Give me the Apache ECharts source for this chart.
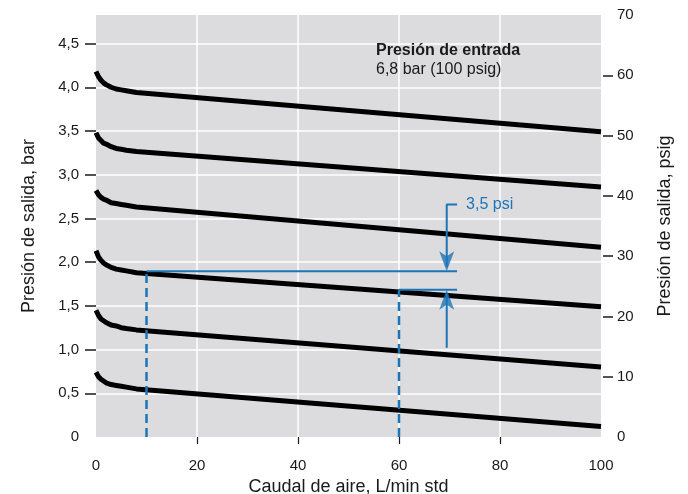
<!DOCTYPE html>
<html>
<head>
<meta charset="utf-8">
<script src="https://cdn.jsdelivr.net/npm/echarts@6/dist/echarts.min.js"></script>
<style>
  html, body { margin: 0; padding: 0; background: #fff; }
  #chart { width: 688px; height: 494px; }
</style>
</head>
<body>
<div id="chart"></div>
<script>
// caudal (L/min std) y presión de salida (bar) para cada ajuste del regulador
const flow = [0, 0.5, 1, 1.5, 2, 3, 4, 5, 6, 8, 100];
const outlet1 = [4.18, 4.12, 4.08, 4.05, 4.03, 4.00, 3.98, 3.97, 3.96, 3.94, 3.49];
const outlet2 = [3.48, 3.42, 3.39, 3.36, 3.35, 3.32, 3.30, 3.29, 3.28, 3.265, 2.86];
const outlet3 = [2.82, 2.77, 2.74, 2.72, 2.71, 2.68, 2.67, 2.66, 2.65, 2.63, 2.17];
const outlet4 = [2.13, 2.06, 2.02, 1.99, 1.97, 1.94, 1.92, 1.91, 1.90, 1.878, 1.49];
const outlet5 = [1.45, 1.39, 1.35, 1.33, 1.31, 1.28, 1.27, 1.25, 1.24, 1.225, 0.80];
const outlet6 = [0.74, 0.69, 0.66, 0.64, 0.62, 0.60, 0.59, 0.58, 0.57, 0.55, 0.12];

// ejes
const xLabels = [0, 20, 40, 60, 80, 100];
const xTicks = [20, 40, 60, 80];
const barLabels = [0, 0.5, 1, 1.5, 2, 2.5, 3, 3.5, 4, 4.5];
const barTicks = [0.5, 1, 1.5, 2, 2.5, 3, 3.5, 4, 4.5];
const psigLabels = [0, 10, 20, 30, 40, 50, 60, 70];
const psigTicks = [10, 20, 30, 40, 50, 60];
const psigMax = 70;
const barMax = psigMax / 14.5038;

// anotación de caída de presión
const refFlow = [10, 60];
const refOutlet = [1.895, 1.685];
const markFlow = 69.45;
const markEnd = 71.5;
const arrowTop = 2.66;
const arrowBottom = 1.02;
const markText = "3,5 psi";

const BLUE = "#1b75b6";
const TXT = "#1a1a1a";
const FONT = "Liberation Sans, Arial, sans-serif";

const curves = [outlet1, outlet2, outlet3, outlet4, outlet5, outlet6];

const curveSeries = curves.map((vals, i) => ({
  name: "c" + i,
  type: "line",
  data: flow.map((f, j) => [f, vals[j]]),
  symbol: "none",
  smooth: false,
  lineStyle: { color: "#000", width: 5, join: "round" },
  silent: true,
  z: 3,
}));

const blueLine = (data, extra) => Object.assign({
  type: "line",
  data: data,
  symbol: "none",
  silent: true,
  lineStyle: { color: BLUE, width: 2 },
  z: 5,
}, extra || {});

const arrowDown = "path://M0,0L7.5,5L15,0L7.5,20Z";

const annotationSeries = [
  // verticales discontinuas
  blueLine([[refFlow[0], 0], [refFlow[0], refOutlet[0]]], { lineStyle: { color: BLUE, width: 2.5, type: [9, 5] } }),
  blueLine([[refFlow[1], 0], [refFlow[1], refOutlet[1]]], { lineStyle: { color: BLUE, width: 2.5, type: [9, 5] } }),
  // horizontales
  blueLine([[refFlow[0], refOutlet[0]], [markEnd, refOutlet[0]]]),
  blueLine([[refFlow[1], refOutlet[1]], [markEnd, refOutlet[1]]]),
  // flecha superior y etiqueta
  blueLine([[markFlow, refOutlet[0] + 0.05], [markFlow, arrowTop], [markEnd, arrowTop]], {
    endLabel: {
      show: true,
      formatter: markText,
      color: BLUE,
      fontSize: 16,
      fontFamily: FONT,
      distance: 9,
    },
  }),
  // flecha inferior
  blueLine([[markFlow, arrowBottom], [markFlow, refOutlet[1] - 0.05]]),
  {
    type: "scatter",
    data: [[markFlow, refOutlet[0]]],
    symbol: arrowDown,
    symbolSize: [15, 20],
    symbolOffset: [0, -10],
    itemStyle: { color: BLUE },
    silent: true,
    z: 6,
  },
  {
    type: "scatter",
    data: [[markFlow, refOutlet[1]]],
    symbol: arrowDown,
    symbolSize: [15, 20],
    symbolRotate: 180,
    symbolOffset: [0, 10],
    itemStyle: { color: BLUE },
    silent: true,
    z: 6,
  },
];

const fmtComma = (v) => (v === 0 ? "0" : v.toFixed(1).replace(".", ","));

const chart = echarts.init(document.getElementById("chart"), null, { renderer: "canvas" });

chart.setOption({
  animation: false,
  textStyle: { fontFamily: FONT, color: TXT },
  title: {
    text: "Presión de entrada",
    subtext: "6,8 bar (100 psig)",
    left: 376,
    top: 43,
    padding: 0,
    itemGap: 3,
    textStyle: { fontSize: 16, fontWeight: "bold", color: TXT, fontFamily: FONT },
    subtextStyle: { fontSize: 16, color: TXT, fontFamily: FONT },
  },
  grid: {
    left: 96,
    right: 87,
    top: 15,
    bottom: 57,
    outerBoundsMode: "none",
    show: true,
    backgroundColor: "#dcdcde",
    borderWidth: 0,
  },
  xAxis: {
    type: "value",
    min: 0,
    max: 100,
    interval: 20,
    offset: 3,
    name: "Caudal de aire, L/min std",
    nameLocation: "middle",
    nameGap: 38,
    nameTextStyle: { fontSize: 18, color: TXT, fontFamily: FONT },
    axisLine: { show: false },
    axisTick: { show: true, length: 7, customValues: xTicks, lineStyle: { color: TXT, width: 1.2 } },
    axisLabel: { customValues: xLabels, margin: 18, fontSize: 15, color: TXT, fontFamily: FONT },
    splitLine: { show: true, lineStyle: { color: "#ffffff", width: 1.5 } },
  },
  yAxis: [
    {
      type: "value",
      position: "left",
      min: 0,
      max: barMax,
      interval: 0.5,
      offset: 2,
      name: "Presión de salida, bar",
      nameLocation: "middle",
      nameRotate: 90,
      nameGap: 56,
      nameTextStyle: { fontSize: 18, color: TXT, fontFamily: FONT },
      axisLine: { show: false },
      axisTick: { show: true, length: 11, customValues: barTicks, lineStyle: { color: TXT, width: 1.5 } },
      axisLabel: { customValues: barLabels, margin: 15, fontSize: 15, color: TXT, fontFamily: FONT, formatter: fmtComma },
      splitLine: { show: true, lineStyle: { color: "#ffffff", width: 1.5 } },
    },
    {
      type: "value",
      position: "right",
      min: 0,
      max: psigMax,
      interval: 10,
      offset: 2,
      name: "Presión de salida, psig",
      nameLocation: "middle",
      nameRotate: 90,
      nameGap: 53,
      nameTextStyle: { fontSize: 18, color: TXT, fontFamily: FONT },
      axisLine: { show: false },
      axisTick: { show: true, length: 10, customValues: psigTicks, lineStyle: { color: TXT, width: 1.5 } },
      axisLabel: { customValues: psigLabels, margin: 14, fontSize: 15, color: TXT, fontFamily: FONT },
      splitLine: { show: false },
    },
  ],
  series: curveSeries.concat(annotationSeries),
});
</script>
</body>
</html>
